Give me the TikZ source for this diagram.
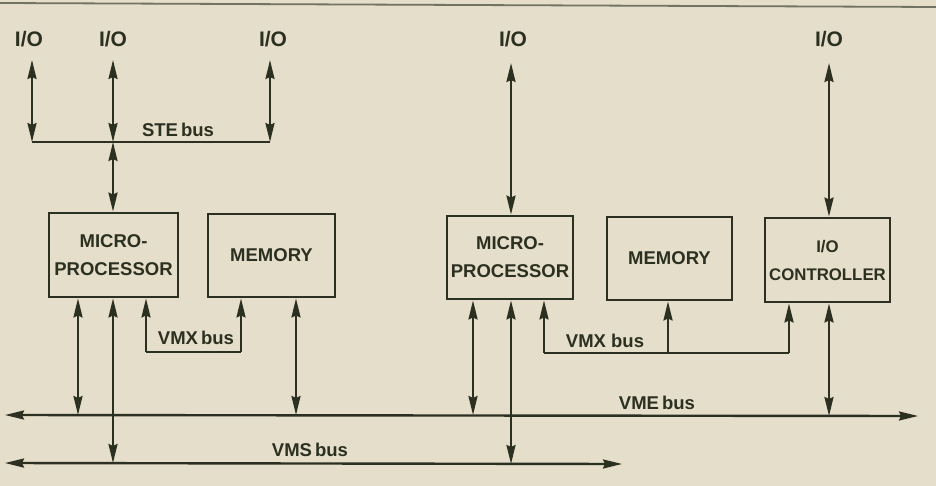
\documentclass[tikz,border=0pt]{standalone}
\usepackage{fontspec}
\setmainfont{Liberation Sans}
\usetikzlibrary{arrows.meta}
\definecolor{bg}{HTML}{E4DECA}
\definecolor{ink}{HTML}{2C3020}
\definecolor{rulec}{HTML}{727363}
\tikzset{
  box/.style={draw=ink, line width=2.8pt, inner sep=0pt, text=ink, align=center,
              font=\bfseries\fontsize{18.5}{28}\selectfont},
  lbl/.style={text=ink, inner sep=0pt, font=\bfseries\fontsize{18.5}{20}\selectfont},
  iolbl/.style={text=ink, inner sep=0pt, font=\bfseries\fontsize{21}{22}\selectfont},
  conn/.style={draw=ink, line width=2.4pt},
  ab/.style={{Stealth[length=19pt,width=9pt,inset=2pt]}-{Stealth[length=19pt,width=9pt,inset=2pt]}},
  ae/.style={-{Stealth[length=19pt,width=9pt,inset=2pt]}},
}
\begin{document}
\begin{tikzpicture}[x=1pt,y=-1pt]
\fill[bg] (0,0) rectangle (936,486);
\useasboundingbox (0,0) rectangle (936,486);
% top rule
\coordinate (r1) at (0,3);
\coordinate (r2) at (936,7);
\draw[rulec, line width=1.8pt] (r1) -- (r2);

% boxes
\node[box, minimum width=129pt, minimum height=84pt] (mp1) at (113.5,255) {MICRO-\\PROCESSOR};
\node[box, minimum width=127pt, minimum height=83pt] (mem1) at (271.5,255.5) {MEMORY};
\node[box, minimum width=126pt, minimum height=83pt] (mp2) at (510,257.5) {MICRO-\\PROCESSOR};
\node[box, minimum width=125pt, minimum height=83pt] (mem2) at (669.5,258.5) {MEMORY};
\node[box, minimum width=125pt, minimum height=84pt, text width=123pt,
      font=\bfseries\fontsize{16.8}{28}\selectfont] (ctl) at (827.5,260) {I/O\\CONTROLLER};

% I/O labels
\node[iolbl] (io1) at (29,39) {I/O};
\node[iolbl] (io2) at (113,39) {I/O};
\node[iolbl] (io3) at (273,39) {I/O};
\node[iolbl] (io4) at (513,39) {I/O};
\node[iolbl] (io5) at (829,39) {I/O};

% STE bus
\coordinate (t1) at (32,60);
\coordinate (t2) at (113,60);
\coordinate (t3) at (270,60);
\coordinate (s1) at (32,142);
\coordinate (s2) at (113,142);
\coordinate (s3) at (270,142);
\draw[conn] (s1) -- (s3);
\draw[conn, ab] (t1) -- (s1);
\draw[conn, ab] (t2) -- (s2);
\draw[conn, ab] (t3) -- (s3);
\draw[conn, ab] (s2) -- (s2 |- mp1.north);
\node[lbl] (ste) at (178,130) {STE\,bus};

% right I/O lines
\coordinate (t4) at (511,63);
\coordinate (t5) at (829,63);
\draw[conn, ab] (t4) -- (t4 |- mp2.north);
\draw[conn, ab] (t5) -- (t5 |- ctl.north);

% VME and VMS buses
\coordinate (vmeL) at (5,415);
\coordinate (vmeR) at (918,416);
\coordinate (vmsL) at (5,463);
\coordinate (vmsR) at (622,464);
\draw[conn, ab] (vmeL) -- (vmeR);
\draw[conn, ab] (vmsL) -- (vmsR);
\node[lbl] (vme) at (657,403) {VME\,bus};
\node[lbl] (vms) at (310,450) {VMS\,bus};

% left group verticals
\coordinate (e1) at (78,415);
\coordinate (ms1) at (113,463);
\coordinate (e2) at (296,415);
\draw[conn, ab] (e1) -- (e1 |- mp1.south);
\draw[conn, ab] (ms1) -- (ms1 |- mp1.south);
\draw[conn, ab] (e2) -- (e2 |- mem1.south);

% left VMX bus
\coordinate (x1a) at (146,352);
\coordinate (x1b) at (241,352);
\draw[conn] (x1a) -- (x1b);
\draw[conn, ae] (x1a) -- (x1a |- mp1.south);
\draw[conn, ae] (x1b) -- (x1b |- mem1.south);
\node[lbl] (vmx1) at (196,338) {VMX\,bus};

% right group verticals
\coordinate (e3) at (473,415);
\coordinate (ms2) at (511,464);
\coordinate (e4) at (829,416);
\draw[conn, ab] (e3) -- (e3 |- mp2.south);
\draw[conn, ab] (ms2) -- (ms2 |- mp2.south);
\draw[conn, ab] (e4) -- (e4 |- ctl.south);

% right VMX bus
\coordinate (x2a) at (544,353);
\coordinate (x2b) at (668,353);
\coordinate (x2c) at (789,353);
\draw[conn] (x2a) -- (x2c);
\draw[conn, ae] (x2a) -- (x2a |- mp2.south);
\draw[conn, ae] (x2b) -- (x2b |- mem2.south);
\draw[conn, ae] (x2c) -- (x2c |- ctl.south);
\node[lbl] (vmx2) at (605,341) {VMX bus};
\end{tikzpicture}
\end{document}
